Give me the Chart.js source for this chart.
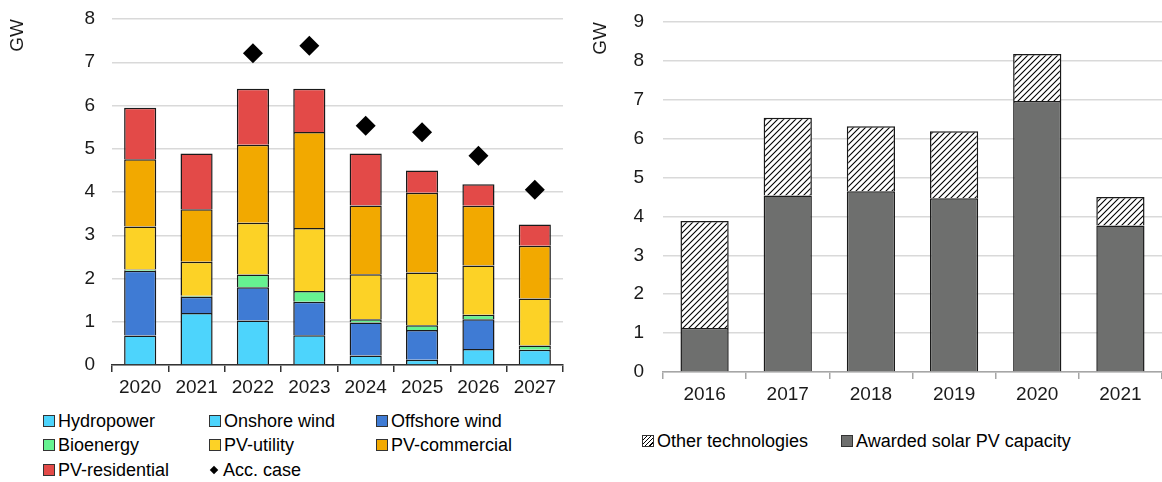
<!DOCTYPE html>
<html>
<head>
<meta charset="utf-8">
<script src="https://cdn.jsdelivr.net/npm/chart.js@4.4.1/dist/chart.umd.min.js"></script>
<style>
  body { margin: 0; background: #fff; font-family: Arial, "Liberation Sans", sans-serif; }
  #wrap { position: relative; width: 1162px; height: 482px; }
  #leftBox { position: absolute; left: 0; top: 0; width: 585px; height: 405px; }
  #rightBox { position: absolute; left: 585px; top: 0; width: 577px; height: 410px; }
  .legend { position: absolute; font-size: 18px; color: #000; }
  .item { position: absolute; white-space: nowrap; line-height: 20px; }
  .sw { display: inline-block; width: 10px; height: 10px; border: 1px solid #333; margin-right: 3px; vertical-align: 0px; }
</style>
</head>
<body>
<div id="wrap">
  <div id="leftBox"><canvas id="leftChart"></canvas></div>
  <div id="rightBox"><canvas id="rightChart"></canvas></div>
  <div class="legend" id="leftLegend" style="left:0;top:0;"></div>
  <div class="legend" id="rightLegend" style="left:0;top:0;"></div>
</div>
<script>
// left chart data
const years = ["2020", "2021", "2022", "2023", "2024", "2025", "2026", "2027"];
const hydropower = [0, 0, 0, 0, 0, 0, 0, 0];
const onshoreWind = [0.68, 1.20, 1.03, 0.69, 0.22, 0.12, 0.37, 0.35];
const offshoreWind = [1.50, 0.38, 0.77, 0.77, 0.76, 0.69, 0.69, 0];
const bioenergy = [0.03, 0.02, 0.29, 0.25, 0.08, 0.11, 0.10, 0.10];
const pvUtility = [0.99, 0.79, 1.20, 1.46, 1.04, 1.22, 1.14, 1.09];
const pvCommercial = [1.56, 1.21, 1.80, 2.22, 1.59, 1.84, 1.38, 1.22];
const pvResidential = [1.19, 1.29, 1.30, 1.00, 1.20, 0.52, 0.50, 0.49];
const accCase = [null, null, 7.21, 7.38, 5.53, 5.38, 4.84, 4.05];
const leftTicks = [0, 1, 2, 3, 4, 5, 6, 7, 8];

// right chart data
const auctionYears = ["2016", "2017", "2018", "2019", "2020", "2021"];
const awardedSolar = [1.13, 4.54, 4.65, 4.47, 6.97, 3.77];
const otherTech = [2.75, 2.00, 1.67, 1.72, 1.21, 0.73];
const rightTicks = [0, 1, 2, 3, 4, 5, 6, 7, 8, 9];

Chart.defaults.font.family = 'Arial, "Liberation Sans", sans-serif';
Chart.defaults.font.size = 19;
Chart.defaults.color = '#1a1a1a';
Chart.defaults.animation = false;

const colors = {
    hydro: '#4dd4fc',
    onshore: '#4dd4fc',
    offshore: '#3f7bd4',
    bio: '#66f291',
    util: '#fcd226',
    comm: '#f2a900',
    res: '#e34a48',
    gray: '#6e6f6e'
};

function hatch() {
    let c = document.createElement('canvas');
    c.width = 6; c.height = 6;
    let ctx = c.getContext('2d');
    ctx.fillStyle = '#fff';
    ctx.fillRect(0, 0, 6, 6);
    ctx.strokeStyle = '#000';
    ctx.lineWidth = 1.1;
    ctx.beginPath();
    ctx.moveTo(-1, 7); ctx.lineTo(7, -1);
    ctx.moveTo(-4, 4); ctx.lineTo(4, -4);
    ctx.moveTo(2, 10); ctx.lineTo(10, 2);
    ctx.stroke();
    return ctx.createPattern(c, 'repeat');
}

function barSet(label, data, color) {
    return {
        type: 'bar',
        label: label,
        data: data,
        backgroundColor: color,
        borderColor: '#1a1a1a',
        borderWidth: 1.5,
        stack: 's',
        order: 1
    };
}

const leftData = {
    labels: years,
    datasets: [
        {
            type: 'line',
            label: 'Acc. case',
            data: accCase,
            showLine: false,
            pointStyle: 'rectRot',
            pointRadius: 10,
            pointBackgroundColor: '#000',
            pointBorderWidth: 0,
            order: 0
        },
        barSet('Hydropower', hydropower, colors.hydro),
        barSet('Onshore wind', onshoreWind, colors.onshore),
        barSet('Offshore wind', offshoreWind, colors.offshore),
        barSet('Bioenergy', bioenergy, colors.bio),
        barSet('PV-utility', pvUtility, colors.util),
        barSet('PV-commercial', pvCommercial, colors.comm),
        barSet('PV-residential', pvResidential, colors.res)
    ]
};

// ticks.padding also pads the top of the plot, so the label gap comes from an invisible tick mark
function scalesFor(ticks, axisColor, yWidth, xHeight, labelGap, titlePad) {
    return {
        x: {
            stacked: true,
            offset: true,
            grid: {
                offset: true,
                drawOnChartArea: false,
                drawTicks: true,
                tickLength: 7,
                color: axisColor,
                lineWidth: 1.5
            },
            border: { color: axisColor, width: 1.5 },
            ticks: { padding: 4, color: '#1a1a1a' },
            afterFit: function(s) { s.height = xHeight; }
        },
        y: {
            stacked: true,
            min: ticks[0],
            max: ticks[ticks.length - 1],
            afterBuildTicks: function(s) { s.ticks = ticks.map(v => ({ value: v })); },
            grid: { color: '#d9d9d9', lineWidth: 1.5, drawTicks: true, tickLength: labelGap - 3, tickColor: 'rgba(0,0,0,0)' },
            border: { display: false },
            ticks: { padding: 3, color: '#1a1a1a' },
            title: {
                display: true,
                text: 'GW',
                align: 'end',
                color: '#1a1a1a',
                padding: { top: titlePad, bottom: 0 }
            },
            afterFit: function(s) { s.width = yWidth; }
        }
    };
}

new Chart(document.getElementById('leftChart'), {
    data: leftData,
    options: {
        responsive: true,
        maintainAspectRatio: false,
        datasets: { bar: { categoryPercentage: 1, barPercentage: 0.57 } },
        layout: { padding: { top: 19, right: 22, bottom: 0, left: 0 } },
        plugins: { legend: { display: false }, tooltip: { enabled: false } },
        scales: scalesFor(leftTicks, '#333333', 112, 40, 17, 6)
    }
});

new Chart(document.getElementById('rightChart'), {
    type: 'bar',
    data: {
        labels: auctionYears,
        datasets: [
            {
                label: 'Awarded solar PV capacity',
                data: awardedSolar,
                backgroundColor: colors.gray,
                borderColor: '#1a1a1a',
                borderWidth: 1.5
            },
            {
                label: 'Other technologies',
                data: otherTech,
                backgroundColor: hatch(),
                borderColor: '#1a1a1a',
                borderWidth: 1.5
            }
        ]
    },
    options: {
        responsive: true,
        maintainAspectRatio: false,
        datasets: { bar: { categoryPercentage: 1, barPercentage: 0.58 } },
        layout: { padding: { top: 22, right: 0, bottom: 0, left: 0 } },
        plugins: { legend: { display: false }, tooltip: { enabled: false } },
        scales: scalesFor(rightTicks, '#a6a6a6', 78, 38, 19, 4)
    }
});

// legends (html so the columns line up like the original)
const leftItems = [
    ['Hydropower', colors.hydro, 43, 411],
    ['Onshore wind', colors.onshore, 209, 411],
    ['Offshore wind', colors.offshore, 376, 411],
    ['Bioenergy', colors.bio, 43, 435],
    ['PV-utility', colors.util, 209, 435],
    ['PV-commercial', colors.comm, 376, 435],
    ['PV-residential', colors.res, 43, 460]
];
let leftLegend = document.getElementById('leftLegend');
leftItems.forEach(function(it){
    let d = document.createElement('div');
    d.className = 'item';
    d.style.left = it[2] + 'px';
    d.style.top = it[3] + 'px';
    d.innerHTML = '<span class="sw" style="background:' + it[1] + '"></span>' + it[0];
    leftLegend.appendChild(d);
});
let acc = document.createElement('div');
acc.className = 'item';
acc.style.left = '211px';
acc.style.top = '460px';
acc.innerHTML = '<span style="display:inline-block;width:6px;height:6px;background:#000;transform:rotate(45deg);margin:0 6px 3px 0;vertical-align:middle"></span>Acc. case';
leftLegend.appendChild(acc);

let rightLegend = document.getElementById('rightLegend');
rightLegend.innerHTML =
    '<div class="item" style="left:642px;top:431px"><span class="sw" style="background:repeating-linear-gradient(-45deg,#fff 0 2px,#000 2px 3px)"></span>Other technologies</div>' +
    '<div class="item" style="left:841px;top:431px"><span class="sw" style="background:' + colors.gray + '"></span>Awarded solar PV capacity</div>';
</script>
</body>
</html>
